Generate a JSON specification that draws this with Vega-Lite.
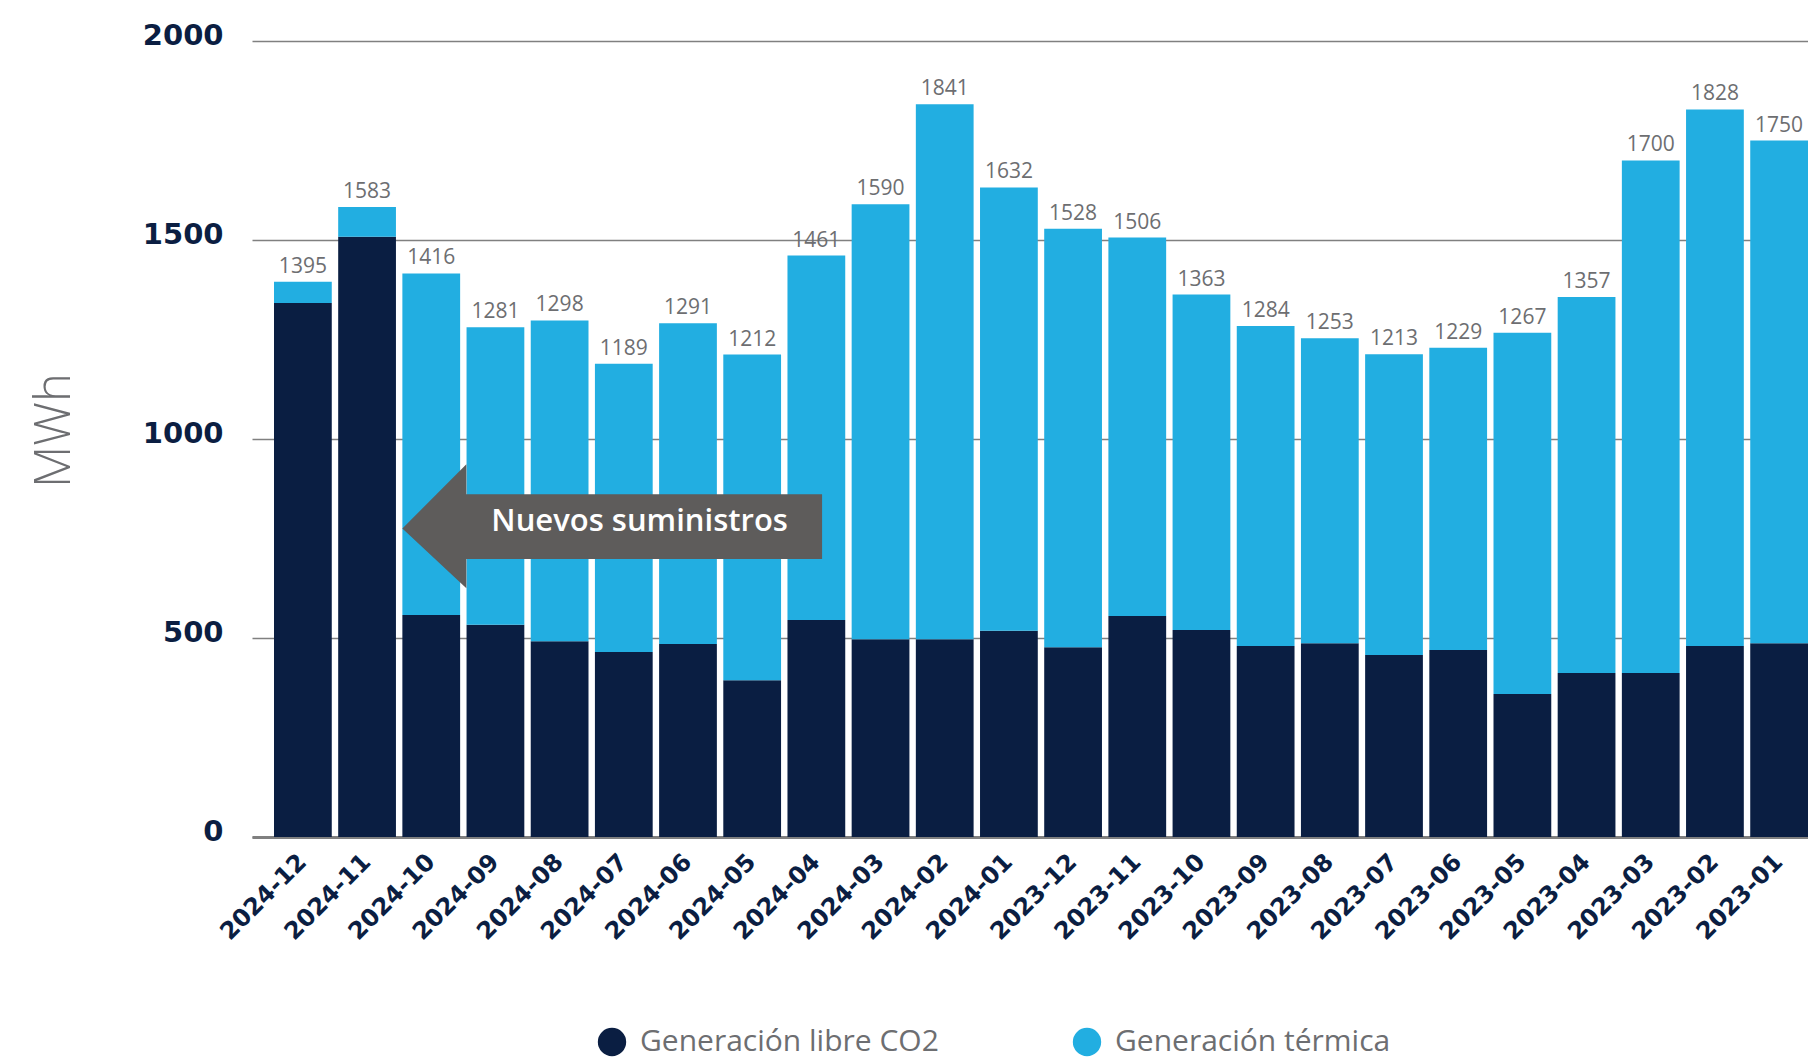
{
  "$schema": "https://vega.github.io/schema/vega-lite/v6.json",
  "width": 1556,
  "height": 796,
  "autosize": "none",
  "padding": {"left": 252, "top": 41, "right": 0, "bottom": 224},
  "background": "white",
  "config": {"view": {"stroke": null}, "font": "Open Sans"},
  "data": {
    "values": [
      {"mes": "2024-12", "serie": "Generación libre CO2", "mwh": 1342},
      {"mes": "2024-12", "serie": "Generación térmica", "mwh": 53},
      {"mes": "2024-11", "serie": "Generación libre CO2", "mwh": 1508},
      {"mes": "2024-11", "serie": "Generación térmica", "mwh": 75},
      {"mes": "2024-10", "serie": "Generación libre CO2", "mwh": 558},
      {"mes": "2024-10", "serie": "Generación térmica", "mwh": 858},
      {"mes": "2024-09", "serie": "Generación libre CO2", "mwh": 533},
      {"mes": "2024-09", "serie": "Generación térmica", "mwh": 748},
      {"mes": "2024-08", "serie": "Generación libre CO2", "mwh": 492},
      {"mes": "2024-08", "serie": "Generación térmica", "mwh": 806},
      {"mes": "2024-07", "serie": "Generación libre CO2", "mwh": 465},
      {"mes": "2024-07", "serie": "Generación térmica", "mwh": 724},
      {"mes": "2024-06", "serie": "Generación libre CO2", "mwh": 485},
      {"mes": "2024-06", "serie": "Generación térmica", "mwh": 806},
      {"mes": "2024-05", "serie": "Generación libre CO2", "mwh": 394},
      {"mes": "2024-05", "serie": "Generación térmica", "mwh": 818},
      {"mes": "2024-04", "serie": "Generación libre CO2", "mwh": 545},
      {"mes": "2024-04", "serie": "Generación térmica", "mwh": 916},
      {"mes": "2024-03", "serie": "Generación libre CO2", "mwh": 497},
      {"mes": "2024-03", "serie": "Generación térmica", "mwh": 1093},
      {"mes": "2024-02", "serie": "Generación libre CO2", "mwh": 497},
      {"mes": "2024-02", "serie": "Generación térmica", "mwh": 1344},
      {"mes": "2024-01", "serie": "Generación libre CO2", "mwh": 518},
      {"mes": "2024-01", "serie": "Generación térmica", "mwh": 1114},
      {"mes": "2023-12", "serie": "Generación libre CO2", "mwh": 477},
      {"mes": "2023-12", "serie": "Generación térmica", "mwh": 1051},
      {"mes": "2023-11", "serie": "Generación libre CO2", "mwh": 555},
      {"mes": "2023-11", "serie": "Generación térmica", "mwh": 951},
      {"mes": "2023-10", "serie": "Generación libre CO2", "mwh": 520},
      {"mes": "2023-10", "serie": "Generación térmica", "mwh": 843},
      {"mes": "2023-09", "serie": "Generación libre CO2", "mwh": 480},
      {"mes": "2023-09", "serie": "Generación térmica", "mwh": 804},
      {"mes": "2023-08", "serie": "Generación libre CO2", "mwh": 487},
      {"mes": "2023-08", "serie": "Generación térmica", "mwh": 766},
      {"mes": "2023-07", "serie": "Generación libre CO2", "mwh": 457},
      {"mes": "2023-07", "serie": "Generación térmica", "mwh": 756},
      {"mes": "2023-06", "serie": "Generación libre CO2", "mwh": 470},
      {"mes": "2023-06", "serie": "Generación térmica", "mwh": 759},
      {"mes": "2023-05", "serie": "Generación libre CO2", "mwh": 359},
      {"mes": "2023-05", "serie": "Generación térmica", "mwh": 908},
      {"mes": "2023-04", "serie": "Generación libre CO2", "mwh": 412},
      {"mes": "2023-04", "serie": "Generación térmica", "mwh": 945},
      {"mes": "2023-03", "serie": "Generación libre CO2", "mwh": 412},
      {"mes": "2023-03", "serie": "Generación térmica", "mwh": 1288},
      {"mes": "2023-02", "serie": "Generación libre CO2", "mwh": 480},
      {"mes": "2023-02", "serie": "Generación térmica", "mwh": 1348},
      {"mes": "2023-01", "serie": "Generación libre CO2", "mwh": 487},
      {"mes": "2023-01", "serie": "Generación térmica", "mwh": 1263}
    ]
  },
  "layer": [
    {
      "mark": {"type": "bar"},
      "encoding": {
        "x": {
          "field": "mes",
          "type": "nominal",
          "sort": "descending",
          "title": null,
          "scale": {"paddingInner": 0.1, "paddingOuter": 0.1714, "align": 1},
          "axis": {
            "domain": true,
            "domainColor": "#808080",
            "domainWidth": 3,
            "ticks": false,
            "grid": false,
            "labelAngle": -45,
            "labelAlign": "right",
            "labelBaseline": "middle",
            "labelFont": "DejaVu Sans",
            "labelFontWeight": "bold",
            "labelFontSize": 24,
            "labelColor": "#0b1e42",
            "labelPadding": 21,
            "labelOverlap": false
          }
        },
        "y": {
          "field": "mwh",
          "type": "quantitative",
          "title": "MWh",
          "scale": {"domain": [0, 2000], "nice": false},
          "axis": {
            "values": [0, 500, 1000, 1500, 2000],
            "format": "d",
            "grid": true,
            "gridColor": "#808080",
            "gridWidth": 1.5,
            "domain": false,
            "ticks": false,
            "labelFont": "DejaVu Sans",
            "labelFontWeight": "bold",
            "labelFontSize": 29,
            "labelColor": "#0b1e42",
            "labelPadding": 29,
            "labelOffset": -6,
            "titleFont": "Open Sans",
            "titleFontWeight": 300,
            "titleFontSize": 49,
            "titleColor": "#6d6e71",
            "titlePadding": 63,
            "titleY": 389
          }
        },
        "order": {"field": "serie", "type": "nominal", "sort": "ascending"},
        "color": {
          "field": "serie",
          "type": "nominal",
          "scale": {
            "domain": ["Generación libre CO2", "Generación térmica"],
            "range": ["#0a1e42", "#22aee1"]
          },
          "legend": {
            "title": null,
            "orient": "none",
            "legendX": 345,
            "legendY": 986,
            "direction": "horizontal",
            "symbolType": "circle",
            "symbolSize": 804,
            "symbolStrokeWidth": 0,
            "symbolOpacity": 1,
            "labelFont": "Open Sans",
            "labelFontSize": 30,
            "labelColor": "#6d6e71",
            "labelOffset": 13,
            "labelLimit": 0,
            "columnPadding": 133
          }
        }
      }
    },
    {
      "mark": {"type": "text", "baseline": "alphabetic", "dy": -9, "font": "Open Sans", "fontSize": 21, "color": "#6d6e71"},
      "encoding": {
        "x": {"field": "mes", "type": "nominal", "sort": "descending", "title": null},
        "y": {"aggregate": "sum", "field": "mwh", "type": "quantitative", "title": "MWh"},
        "text": {"aggregate": "sum", "field": "mwh", "type": "quantitative", "format": "d"}
      }
    },
    {
      "data": {"values": [{"mes": "2024-10", "nota": "Nuevos suministros"}]},
      "mark": {
        "type": "point",
        "shape": "M0,0L0.64,-0.643L0.64,-0.343L4.197,-0.343L4.197,0.304L0.64,0.304L0.64,0.597Z",
        "size": 40000,
        "filled": true,
        "color": "#5e5c5b",
        "opacity": 1,
        "strokeWidth": 0
      },
      "encoding": {
        "x": {"field": "mes", "type": "nominal", "sort": "descending", "bandPosition": 0, "title": null},
        "y": {"datum": 775, "type": "quantitative", "title": "MWh"}
      }
    },
    {
      "data": {"values": [{"mes": "2024-10", "nota": "Nuevos suministros"}]},
      "mark": {"type": "text", "align": "left", "baseline": "alphabetic", "dx": 89, "font": "Open Sans", "fontSize": 31, "fontWeight": 600, "color": "white"},
      "encoding": {
        "x": {"field": "mes", "type": "nominal", "sort": "descending", "bandPosition": 0, "title": null},
        "y": {"datum": 769, "type": "quantitative", "title": "MWh"},
        "text": {"field": "nota", "type": "nominal"}
      }
    }
  ]
}
